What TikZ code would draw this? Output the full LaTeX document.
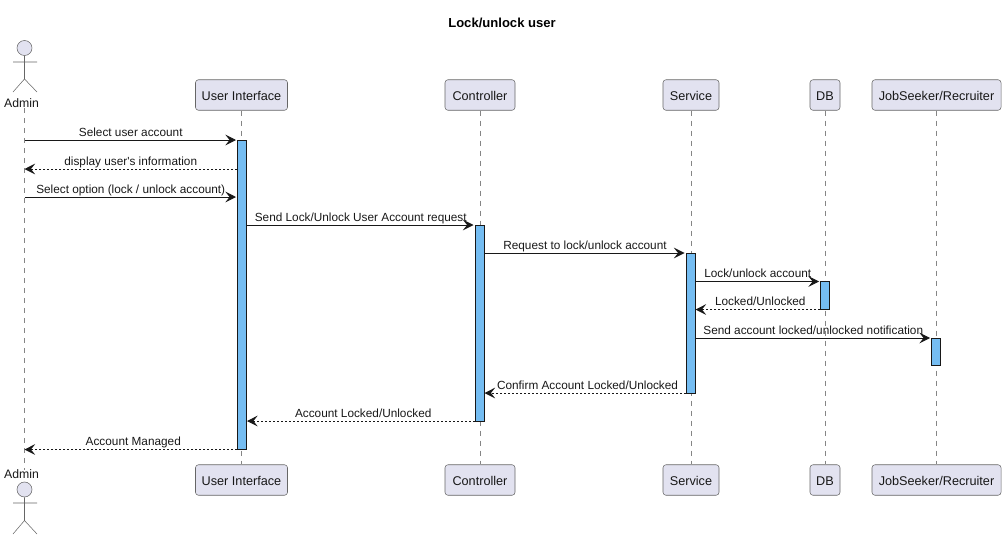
\documentclass[tikz,border=0pt]{standalone}
\usepackage{fontspec}
\setmainfont{Liberation Sans}
\newfontfamily\plainsans{Liberation Sans}
\usepackage{xcolor}
\usetikzlibrary{arrows.meta, calc, positioning}
\definecolor{boxfill}{HTML}{E2E2F0}
\definecolor{boxline}{HTML}{666666}
\definecolor{barfill}{HTML}{75BDF2}
\definecolor{msgline}{HTML}{181818}
\def\px{0.75pt}
\tikzset{
    lifebox/.style = {draw=boxline, fill=boxfill, rectangle, rounded corners=2.2pt, inner sep=0em,
      minimum height=30.5*\px, text height=8pt, text depth=0pt, font=\fontsize{9.5pt}{12pt}\selectfont, text=msgline},
    actorlabel/.style = {draw=none, fill=none, inner sep=0em, font=\fontsize{9.2pt}{12pt}\selectfont, text=msgline},
    actorhead/.style = {circle, draw=boxline, fill=boxfill, minimum size=15*\px, inner sep=0em},
    actorbody/.style = {draw=boxline},
    lifeline/.style = {draw=boxline!80, dash pattern=on 3.75pt off 3.75pt, line width=0.6pt},
    activebar/.style = {draw=msgline, fill=barfill, rectangle, inner sep=0em, minimum width=9*\px, line width=0.75pt},
    connect/.style = {msgline, line width=0.75pt, -{Stealth[length=8pt, width=8pt, inset=3.2pt]}, shorten >=0.75pt},
    reply/.style = {connect, dash pattern=on 1.5pt off 1.5pt, shorten >=0pt},
    msgtext/.style = {midway, anchor=base, yshift=2.7pt, inner sep=0em, text=msgline, font=\plainsans\fontsize{8.85pt}{11pt}\selectfont, solid},
    replytext/.style = {msgtext, xshift=1.9pt}
}
\begin{document}
\begin{tikzpicture}[x=\px, y=\px]
    \useasboundingbox (0,0) rectangle (1005,-539);
    \node [name=title, font=\bfseries\fontsize{9.8pt}{12pt}\selectfont, text=black, inner sep=0em] at (502,-22.5) {Lock/unlock user};

    % participants on top and bottom
    \node [actorlabel, name=admintop] at (21.5,-103.5) {Admin};
    \node [lifebox, name=ui, minimum width=92*\px] at (241.5,-95) {User Interface};
    \node [lifebox, name=ctrl, minimum width=70*\px] at (480,-95) {Controller};
    \node [lifebox, name=svc, minimum width=56*\px] at (691,-95) {Service};
    \node [lifebox, name=db, minimum width=30*\px] at (825,-95) {DB};
    \node [lifebox, name=seeker, minimum width=129*\px] at (936.5,-95) {JobSeeker/Recruiter};

    \node [actorlabel, name=adminbot] at (21.5,-474.5) {Admin};
    \node [lifebox, name=uib, minimum width=92*\px] at (241.5,-480) {User Interface};
    \node [lifebox, name=ctrlb, minimum width=70*\px] at (480,-480) {Controller};
    \node [lifebox, name=svcb, minimum width=56*\px] at (691,-480) {Service};
    \node [lifebox, name=dbb, minimum width=30*\px] at (825,-480) {DB};
    \node [lifebox, name=seekerb, minimum width=129*\px] at (936.5,-480) {JobSeeker/Recruiter};

    % actors
    \coordinate (admin) at (24.5,-300);
    \node [actorhead, name=headtop] at (24.5,-48) {};
    \coordinate (hipstop) at (24.5,-79);
    \coordinate (armLtop) at (13,-62);
    \coordinate (armRtop) at (37,-62);
    \coordinate (legLtop) at (13,-92);
    \coordinate (legRtop) at (37,-92);
    \draw [actorbody] (headtop) -- (hipstop) (armLtop) -- (armRtop) (legLtop) -- (hipstop) -- (legRtop);
    \node [actorhead, name=headbot] at (24.5,-489.5) {};
    \coordinate (hipsbot) at (24.5,-520.5);
    \coordinate (armLbot) at (13,-503);
    \coordinate (armRbot) at (37,-503);
    \coordinate (legLbot) at (13,-534);
    \coordinate (legRbot) at (37,-534);
    \draw [actorbody] (headbot) -- (hipsbot) (armLbot) -- (armRbot) (legLbot) -- (hipsbot) -- (legRbot);

    % lifelines
    \draw [lifeline] (admin |- admintop.south) -- (admin |- adminbot.north);
    \draw [lifeline] (ui) -- (uib);
    \draw [lifeline] (ctrl) -- (ctrlb);
    \draw [lifeline] (svc) -- (svcb);
    \draw [lifeline] (db) -- (dbb);
    \draw [lifeline] (seeker) -- (seekerb);

    % activation bars
    \node [activebar, name=uibar, minimum height=309*\px] at (242,-294.5) {};
    \node [activebar, name=ctrlbar, minimum height=196*\px] at (479.5,-323) {};
    \node [activebar, name=svcbar, minimum height=140*\px] at (690.5,-323) {};
    \node [activebar, name=dbbar, minimum height=28*\px] at (825,-295) {};
    \node [activebar, name=seekerbar, minimum height=27*\px] at (936,-351.5) {};

    % message rows
    \foreach \row/\ypos in {1/140, 2/169, 3/197, 4/225, 5/253, 6/281.5, 7/309.5, 8/338, 9/393, 10/421, 11/449.5}
        \coordinate (row\row) at (0,-\ypos);

    \draw (admin |- row1) edge[connect] node[msgtext] {Select user account} (uibar.west |- row1);
    \draw (uibar.west |- row2) edge[reply] node[msgtext] {display user's information} (admin |- row2);
    \draw (admin |- row3) edge[connect] node[msgtext] {Select option (lock / unlock account)} (uibar.west |- row3);
    \draw (uibar.east |- row4) edge[connect] node[msgtext] {Send Lock/Unlock User Account request} (ctrlbar.west |- row4);
    \draw (ctrlbar.east |- row5) edge[connect] node[msgtext] {Request to lock/unlock account} (svcbar.west |- row5);
    \draw (svcbar.east |- row6) edge[connect] node[msgtext] {Lock/unlock account} (dbbar.west |- row6);
    \draw (dbbar.west |- row7) edge[reply] node[replytext] {Locked/Unlocked} (svcbar.east |- row7);
    \draw (svcbar.east |- row8) edge[connect] node[msgtext] {Send account locked/unlocked notification} (seekerbar.west |- row8);
    \draw (svcbar.west |- row9) edge[reply] node[replytext] {Confirm Account Locked/Unlocked} (ctrlbar.east |- row9);
    \draw (ctrlbar.west |- row10) edge[reply] node[replytext] {Account Locked/Unlocked} (uibar.east |- row10);
    \draw (uibar.west |- row11) edge[reply] node[replytext] {Account Managed} (admin |- row11);
\end{tikzpicture}
\end{document}
